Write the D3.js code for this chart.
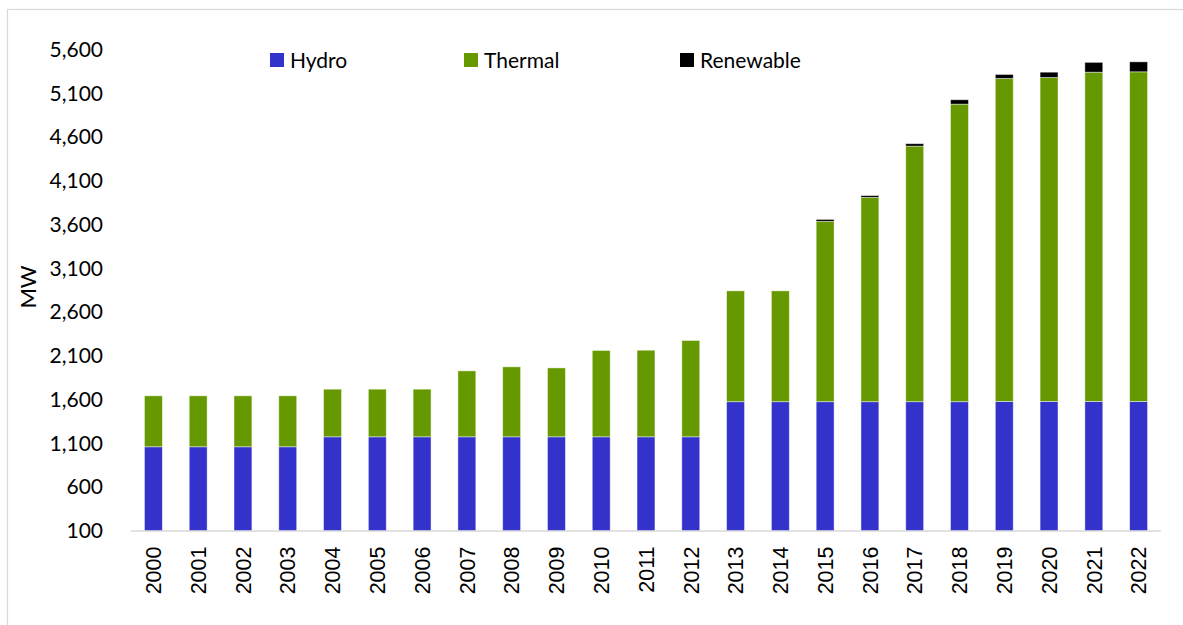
<!DOCTYPE html>
<html>
<head>
<meta charset="UTF-8">
<title>Installed capacity</title>
<script src="https://d3js.org/d3.v7.min.js"></script>
<style>
  body { margin: 0; background: #fff; }
  svg { display: block; }
</style>
</head>
<body>
<div id="chart"></div>
<script>
// chart data (MW)
var years = ["2000","2001","2002","2003","2004","2005","2006","2007","2008","2009","2010",
             "2011","2012","2013","2014","2015","2016","2017","2018","2019","2020","2021","2022"];
var hydro = [1062,1062,1062,1062,1176,1176,1176,1176,1176,1176,1176,
             1176,1176,1577,1577,1577,1577,1577,1577,1580,1580,1580,1580];
var thermal = [582,582,582,582,544,544,544,753,799,787,986,
               989,1100,1266,1266,2060,2334,2919,3399,3689,3700,3761,3765];
var renewable = [0,0,0,0,0,0,0,0,0,0,0,
                 0,0,0,0,22,20,28,50,46,61,112,114];
var seriesNames = ["Hydro", "Thermal", "Renewable"];
var seriesColours = ["#3333cc", "#669900", "#000000"];
var yTicks = [100,600,1100,1600,2100,2600,3100,3600,4100,4600,5100,5600];

var width = 1183, height = 625;
// plot area edges (named so they don't clash with window.top)
var plotLeft = 131, plotRight = 1161, plotTop = 49.5, plotBottom = 531;

// build rows for the stack
var rows = years.map(function(y, i) {
    return { year: y, Hydro: hydro[i], Thermal: thermal[i], Renewable: renewable[i] };
});
var stacked = d3.stack().keys(seriesNames)(rows);

var svg = d3.select("#chart").append("svg")
    .attr("width", width)
    .attr("height", height);

// chart border
svg.append("rect")
    .attr("x", 7.5).attr("y", 9.5)
    .attr("width", width + 20).attr("height", height + 20)
    .attr("fill", "none")
    .attr("stroke", "#d9d9d9")
    .attr("stroke-width", 1.2);

var x = d3.scaleBand()
    .domain(years)
    .range([plotLeft, plotRight])
    .paddingInner(0.6)
    .paddingOuter(0.3);

var y = d3.scaleLinear()
    .domain([100, 5600])
    .range([plotBottom, plotTop])
    .clamp(true);

var colour = d3.scaleOrdinal().domain(seriesNames).range(seriesColours);

// bars
svg.append("g").selectAll("g")
    .data(stacked)
    .enter().append("g")
    .attr("fill", function(d) { return colour(d.key); })
    .selectAll("rect")
    .data(function(d) { return d.filter(function(p) { return p[1] - p[0] > 0; }); })
    .enter().append("rect")
    .attr("x", function(d) { return x(d.data.year); })
    .attr("width", x.bandwidth())
    .attr("y", function(d) { return y(d[1]); })
    .attr("height", function(d) { return y(d[0]) - y(d[1]); })
    .attr("stroke", "#ffffff")
    .attr("stroke-opacity", 0.55)
    .attr("stroke-width", 0.8);

// x axis
var xAxis = svg.append("g")
    .attr("transform", "translate(0," + plotBottom + ")")
    .call(d3.axisBottom(x).tickSize(0).tickPadding(0));
xAxis.select(".domain")
    .attr("d", "M" + plotLeft + ",0H" + plotRight)
    .attr("stroke", "#d9d9d9")
    .attr("stroke-width", 1.5);
xAxis.selectAll("text")
    .attr("transform", "rotate(-90)")
    .attr("x", -15.5)
    .attr("y", 0)
    .attr("dy", "0.36em")
    .attr("text-anchor", "end")
    .attr("font-family", "Liberation Sans, Arial, sans-serif")
    .attr("font-size", "21.5px")
    .attr("fill", "#000");

// y axis (labels only)
var yAxis = svg.append("g")
    .attr("transform", "translate(" + plotLeft + ",0)")
    .call(d3.axisLeft(y).tickValues(yTicks).tickSize(0).tickPadding(28)
        .tickFormat(d3.format(",")));
yAxis.select(".domain").remove();
yAxis.selectAll("text")
    .attr("font-family", "Lato, sans-serif")
    .attr("font-size", "21px")
    .attr("fill", "#000");

// y title
svg.append("text")
    .attr("transform", "translate(36,287) rotate(-90)")
    .attr("text-anchor", "middle")
    .attr("font-family", "Lato, sans-serif")
    .attr("font-size", "22px")
    .attr("fill", "#000")
    .text("MW");

// legend
var legendX = [270, 464, 680];
var legend = svg.append("g").selectAll("g")
    .data(seriesNames)
    .enter().append("g")
    .attr("transform", function(d, i) { return "translate(" + legendX[i] + ",53)"; });
legend.append("rect")
    .attr("width", 14).attr("height", 14)
    .attr("fill", function(d) { return colour(d); });
legend.append("text")
    .attr("x", 20).attr("y", 7)
    .attr("dy", "0.36em")
    .attr("font-family", "Lato, sans-serif")
    .attr("font-size", "21px")
    .attr("fill", "#000")
    .text(function(d) { return d; });
</script>
</body>
</html>
